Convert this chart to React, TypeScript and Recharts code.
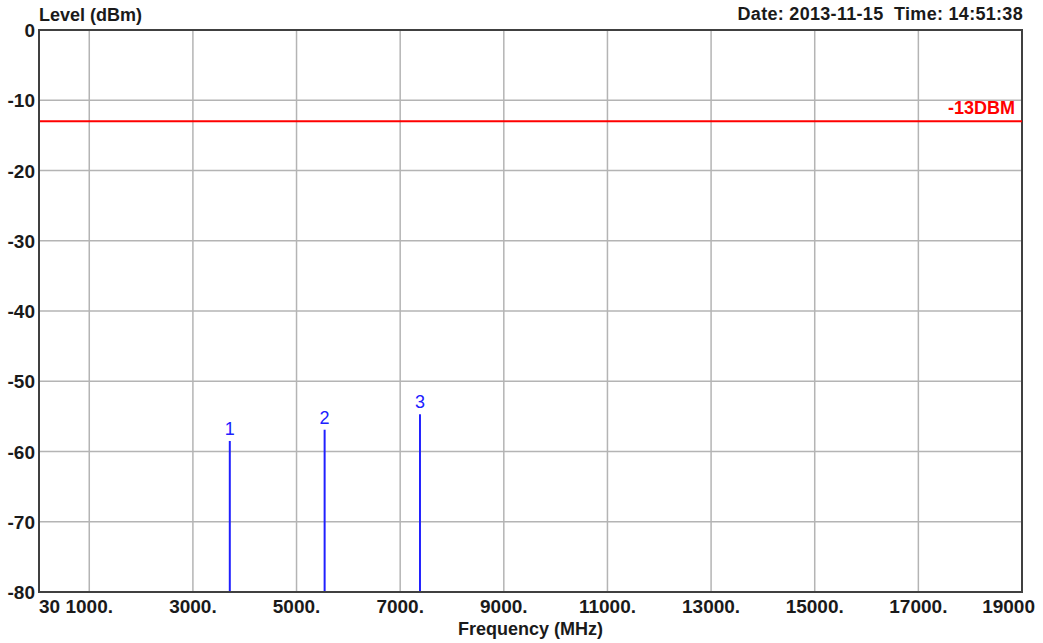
import React from 'react'
import { ComposedChart, Bar, XAxis, YAxis, CartesianGrid, ReferenceLine, ReferenceArea, LabelList } from 'recharts'

const FREQ_TICKS = [30, 1000, 3000, 5000, 7000, 9000, 11000, 13000, 15000, 17000, 19000]
const FREQ_LABELS = ['30', '1000.', '3000.', '5000.', '7000.', '9000.', '11000.', '13000.', '15000.', '17000.', '19000']
const LEVEL_TICKS = [-80, -70, -60, -50, -40, -30, -20, -10, 0]
const MARKER_IDS = ['1', '2', '3']
const MARKER_FREQ = [3720, 5550, 7390]
const MARKER_LEVEL = [-58.5, -56.9, -54.7]
const LIMIT_DBM = -13
const LIMIT_LABEL = '-13DBM'
const FLOOR = -80

const markers = MARKER_IDS.map((id, i) => ({ id, freq: MARKER_FREQ[i], level: MARKER_LEVEL[i] }))

const FONT = '"Liberation Sans", Arial, sans-serif'
const INK = '#1a1a1a'

const FreqTick = (props: any) => {
  const { x, y, payload, index } = props
  const label = FREQ_LABELS[index] ?? String(payload.value)
  let anchor: 'start' | 'middle' | 'end' = 'middle'
  let dx = 0
  if (index === 0) anchor = 'start'
  if (index === FREQ_TICKS.length - 1) { anchor = 'end'; dx = 13 }
  return (
    <text x={x + dx} y={y} dy={13} textAnchor={anchor} fontFamily={FONT} fontWeight="bold" fontSize={19} fill={INK}>
      {label}
    </text>
  )
}

const LevelTick = (props: any) => {
  const { x, y, payload } = props
  return (
    <text x={x + 4} y={y} dy={7} textAnchor="end" fontFamily={FONT} fontWeight="bold" fontSize={19} fill={INK}>
      {payload.value}
    </text>
  )
}

export default function App() {
  return (
    <div style={{ position: 'absolute', left: 0, top: 0, width: 1043, height: 643, background: '#fff', fontFamily: FONT }}>
      <ComposedChart width={1043} height={643} data={markers} margin={{ top: 30, right: 21, left: 0, bottom: 0 }}>
        <CartesianGrid stroke="#b4b4b4" strokeWidth={1.5} />
        <XAxis
          dataKey="freq"
          type="number"
          domain={[30, 19000]}
          ticks={FREQ_TICKS}
          interval={0}
          allowDataOverflow
          height={51}
          tickLine={false}
          axisLine={{ stroke: '#404040', strokeWidth: 2 }}
          tick={<FreqTick />}
        />
        <YAxis
          type="number"
          domain={[FLOOR, 0]}
          ticks={LEVEL_TICKS}
          interval={0}
          width={39}
          tickLine={false}
          axisLine={{ stroke: '#404040', strokeWidth: 2 }}
          tick={<LevelTick />}
        />
        <ReferenceArea x1={30} x2={19000} y1={FLOOR} y2={0} fill="none" stroke="#404040" strokeWidth={2} ifOverflow="visible" />
        <ReferenceLine
          y={LIMIT_DBM}
          stroke="#ff0000"
          strokeWidth={2}
          label={{ value: LIMIT_LABEL, position: 'insideBottomRight', fill: '#ff0000', fontWeight: 'bold', fontSize: 18, fontFamily: FONT, offset: 7 }}
        />
        <Bar dataKey={(d: any) => [FLOOR, d.level]} barSize={2} fill="#2020ff" isAnimationActive={false}>
          <LabelList dataKey="id" position="top" offset={6} fill="#2020ff" fontSize={18} fontFamily={FONT} />
        </Bar>
      </ComposedChart>
      <div style={{ position: 'absolute', left: 39, top: 6, fontSize: 18, lineHeight: '18px', fontWeight: 'bold', color: INK }}>
        Level (dBm)
      </div>
      <div style={{ position: 'absolute', right: 20, top: 5, fontSize: 18, lineHeight: '18px', fontWeight: 'bold', color: INK, whiteSpace: 'pre', letterSpacing: 0.3 }}>
        {'Date: 2013-11-15  Time: 14:51:38'}
      </div>
      <div style={{ position: 'absolute', left: 39, width: 983, top: 620, textAlign: 'center', fontSize: 18, lineHeight: '18px', fontWeight: 'bold', color: INK }}>
        Frequency (MHz)
      </div>
    </div>
  )
}
